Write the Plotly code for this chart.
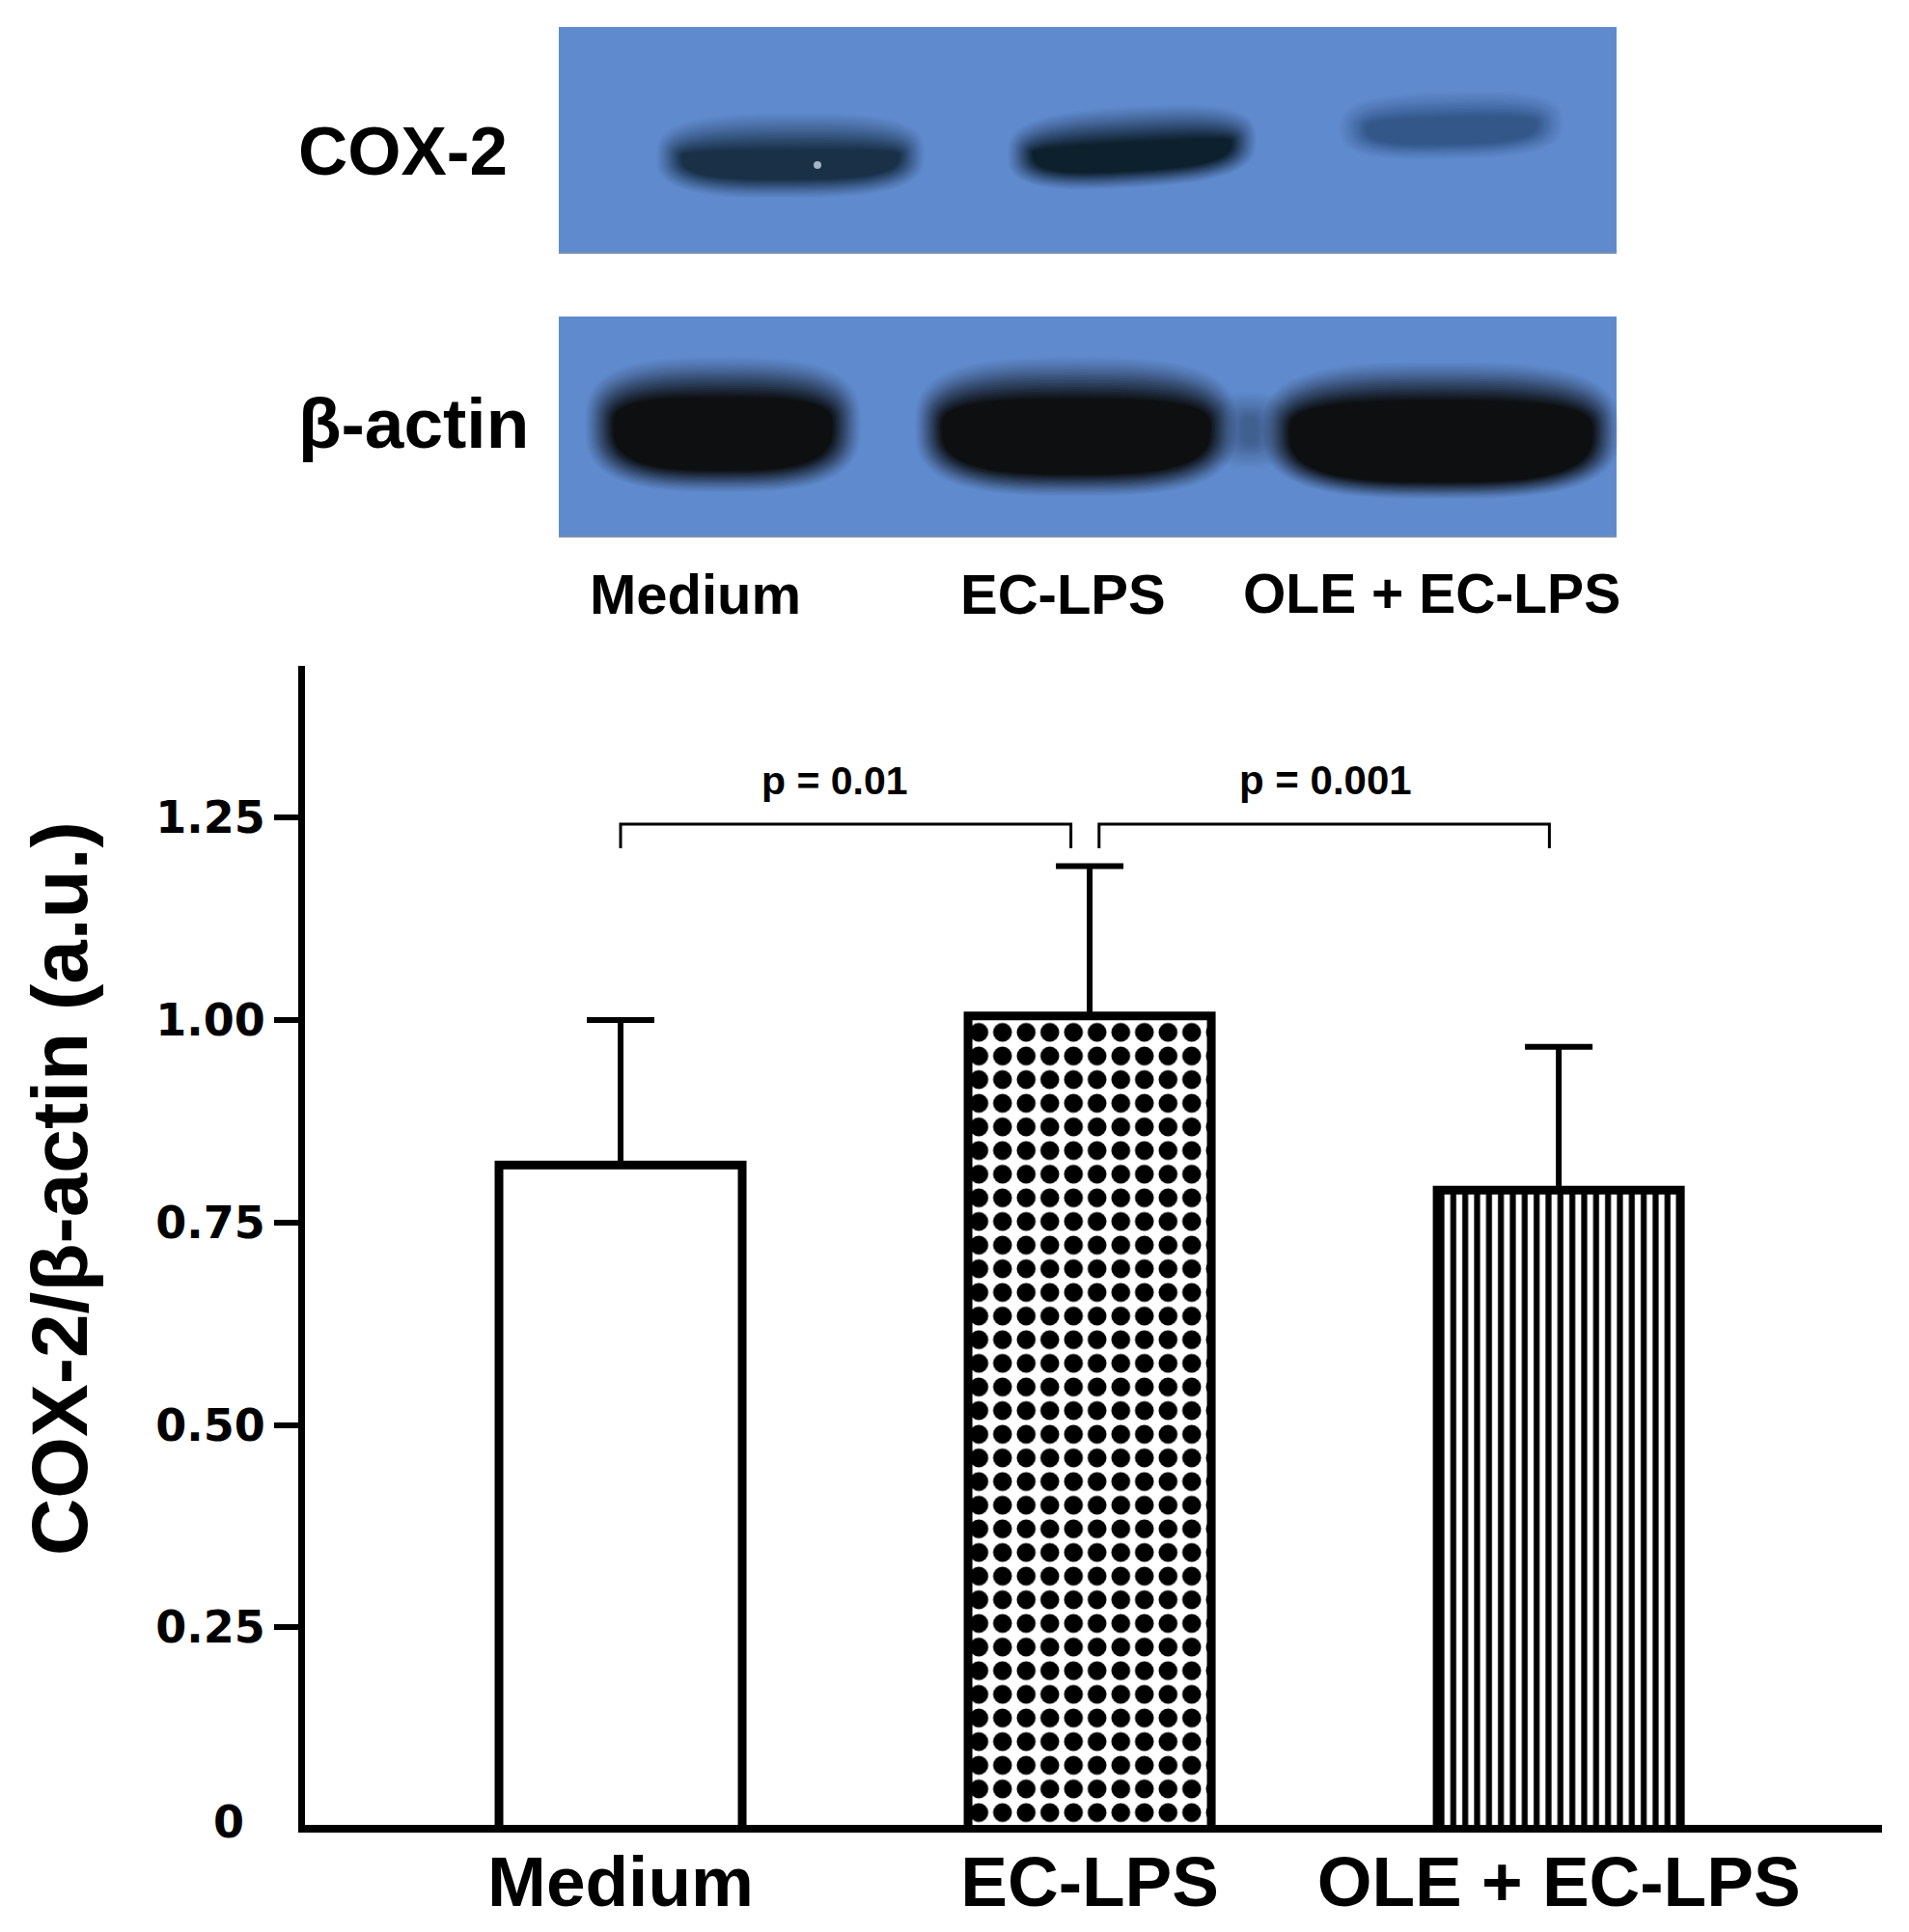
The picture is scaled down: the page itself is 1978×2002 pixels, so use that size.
import numpy as np
import plotly.graph_objects as go

W, H = 1978, 2002
PAGE_MARGIN = 8  # the page body's own margin offsets the plot
FIG_W, FIG_H = W - 2 * PAGE_MARGIN, H - 2 * PAGE_MARGIN

# ---- chart data ----
categories = ["Medium", "EC-LPS", "OLE + EC-LPS"]
means = [0.821, 1.005, 0.790]
errors_up = [0.179, 0.185, 0.177]
tick_values = [0.25, 0.50, 0.75, 1.00, 1.25]
tick_labels = ["0.25", "0.50", "0.75", "1.00", "1.25"]
comparisons = [("p = 0.01", 0, 0.96), ("p = 0.001", 1.02, 1.98)]
comparison_y = 1.242
comparison_drop = 1.212

# ---- western blot drawing ----
BLOT_BLUE = "#5f8acd"
panels = [(579, 28, 1675, 263), (579, 328, 1675, 557)]
# x0, x1, y_left, y_right (centre line), half-height, blur top, blur bottom, blur side, colour, opacity
bands = [
    (680, 958, 162, 160, 44, 44, 22, 30, "#14283a", 0.90),
    (1044, 1302, 160, 145, 42, 42, 20, 30, "#0c1f2b", 0.98),
    (1388, 1620, 133, 127, 35, 30, 18, 32, "#1c3a5c", 0.55),
    (1256, 1334, 446, 446, 40, 30, 30, 36, "#2a3442", 0.38),
    (606, 892, 440, 440, 70, 48, 26, 34, "#0d0f10", 0.995),
    (948, 1282, 442, 442, 72, 50, 26, 32, "#0d0f10", 0.995),
    (1308, 1678, 446, 446, 71, 46, 20, 32, "#0d0f10", 0.995),
]
LAYERS = 22


def fx(px):
    return (px - PAGE_MARGIN) / FIG_W


def fy(py):
    return 1 - (py - PAGE_MARGIN) / FIG_H


def band_path(x0, x1, yl, yr, hh, bt, bb, bs, k, power=0.68):
    """Rounded band outline inset by fraction k of its blur widths."""
    cx, a = (x0 + x1) / 2, (x1 - x0) / 2 - bs * k
    pts = []
    for t in np.linspace(0, 2 * np.pi, 56, endpoint=False):
        c, s = np.cos(t), np.sin(t)
        u = np.sign(c) * abs(c) ** power
        v = np.sign(s) * abs(s) ** power
        x = cx + a * u
        mid = yl + (yr - yl) * (x - x0) / (x1 - x0)
        y = mid + v * (hh - (bb if v > 0 else bt) * k)
        pts.append(f"{fx(x):.5f},{fy(y):.5f}")
    return "M" + "L".join(pts) + "Z"


shapes = []
for x0, y0, x1, y1 in panels:
    shapes.append(dict(type="rect", xref="paper", yref="paper", x0=fx(x0), x1=fx(x1), y0=fy(y0), y1=fy(y1),
                       fillcolor=BLOT_BLUE, line_width=0, layer="below"))
    shapes.append(dict(type="line", xref="paper", yref="paper", x0=fx(x0), x1=fx(x1), y0=fy(y1 - 1), y1=fy(y1 - 1),
                       line=dict(color="#7a90b4", width=2), layer="below"))
for b in bands:
    *geo, colour, final = b
    previous = 0.0
    for i in range(LAYERS):
        s = (i + 1) / LAYERS
        cumulative = final * min(1.0, s * 1.15) ** 1.2
        alpha = 1 - (1 - cumulative) / (1 - previous)
        previous = cumulative
        shapes.append(dict(type="path", xref="paper", yref="paper", path=band_path(*geo, i / (LAYERS - 1)),
                           fillcolor=colour, opacity=float(alpha), line_width=0, layer="below"))
shapes.append(dict(type="circle", xref="paper", yref="paper", x0=fx(843), x1=fx(851), y0=fy(167), y1=fy(175),
                   fillcolor="#a3b4c2", line_width=0, layer="below"))

# significance brackets, in data coordinates
for label, a, b in comparisons:
    shapes.append(dict(type="path", xref="x", yref="y",
                       path=f"M{a},{comparison_drop}L{a},{comparison_y}L{b},{comparison_y}L{b},{comparison_drop}",
                       line=dict(color="black", width=3)))

# ---- traces ----
fig = go.Figure()
fig.add_trace(go.Bar(
    x=categories, y=means, width=0.5185,
    marker=dict(color="white", line=dict(color="black", width=9), pattern=dict(
        shape=["", ".", "|"], size=[24, 24.5, 12.33], solidity=[0.4, 0.5, 0.5],
        fgcolor="black", bgcolor="white", fillmode="replace")),
    error_y=dict(type="data", symmetric=False, array=errors_up, arrayminus=[0, 0, 0],
                 color="black", thickness=6, width=35),
    showlegend=False, hoverinfo="skip",
))

# ---- text ----
SANS = "Liberation Sans"
annotations = []


def text(t, px, py, size, family=SANS, angle=0):
    annotations.append(dict(text=f"<b>{t}</b>", xref="paper", yref="paper", x=fx(px), y=fy(py),
                            xanchor="center", yanchor="middle", showarrow=False, textangle=angle,
                            font=dict(family=family, size=size, color="black")))


text("COX-2", 417, 156, 71)
text("β-actin", 428, 439, 73)
text("Medium", 720, 615, 58)
text("EC-LPS", 1101, 615, 58)
text("OLE + EC-LPS", 1483, 615, 57)
text("COX-2/β-actin (a.u.)", 61, 1232, 82, angle=-90)
text("p = 0.01", 865, 809, 41)
text("p = 0.001", 1373, 809, 42)
text("0", 237, 1888, 46, family="DejaVu Sans")

LEFT, RIGHT, TOP, BOTTOM = 316, 1950, 690, 1891
fig.update_layout(
    width=FIG_W, height=FIG_H, autosize=False,
    margin=dict(l=0, r=0, t=0, b=0, autoexpand=False),
    paper_bgcolor="white", plot_bgcolor="rgba(0,0,0,0)",
    shapes=shapes, annotations=annotations,
    xaxis=dict(domain=[fx(LEFT), fx(RIGHT)], type="category", categoryorder="array", categoryarray=categories,
               range=[-0.6728, 2.689], showline=True, linewidth=8, linecolor="black", showgrid=False, zeroline=False,
               automargin=False, ticks="", ticklabelstandoff=-12,
               tickfont=dict(family=SANS, size=73, color="black"),
               tickmode="array", tickvals=categories, ticktext=[f"<b>{c}</b>" for c in categories]),
    yaxis=dict(domain=[fy(BOTTOM), fy(TOP)], range=[0.006, 1.4374], showline=True, linewidth=7, linecolor="black",
               showgrid=False, zeroline=False, ticks="outside", ticklen=25, tickwidth=6, tickcolor="black",
               automargin=False,
               tickmode="array", tickvals=tick_values, ticktext=[f"<b>{t}</b>" for t in tick_labels],
               tickfont=dict(family="DejaVu Sans", size=46, color="black")),
)
fig.write_html("out.html")
